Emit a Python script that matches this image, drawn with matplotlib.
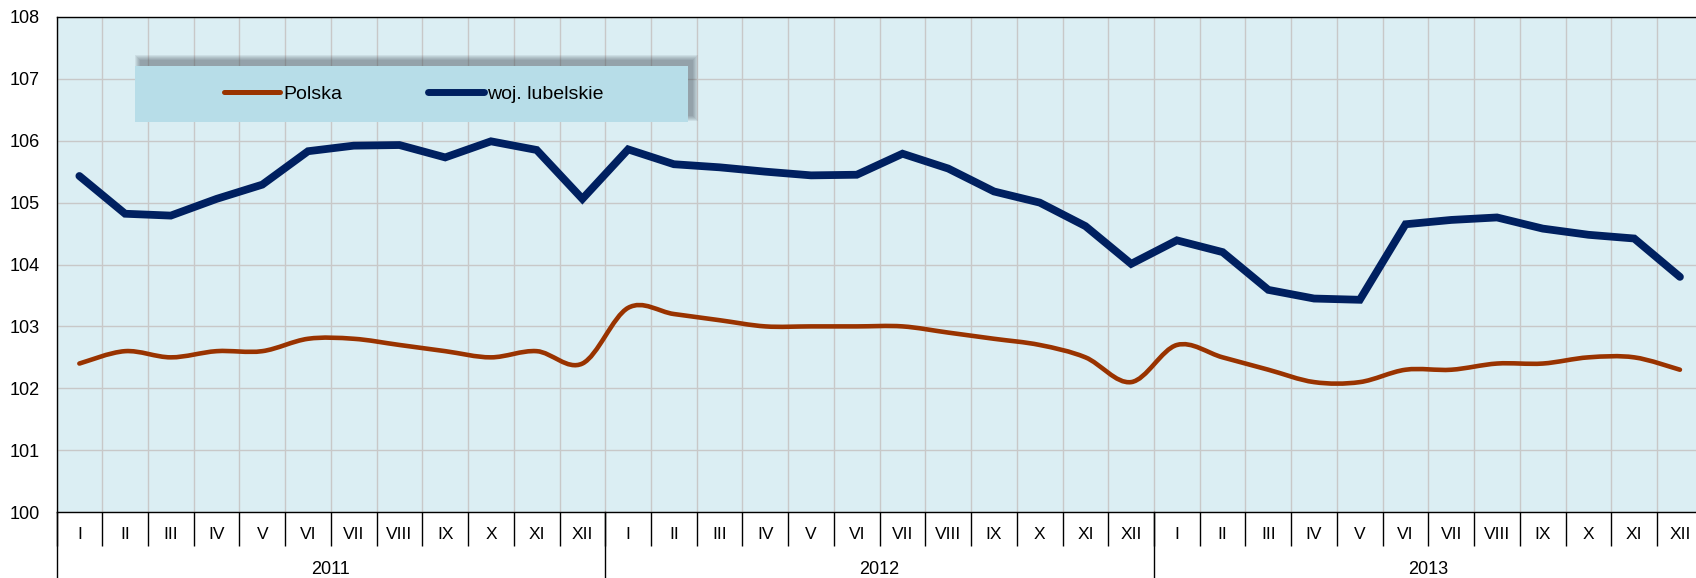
import numpy as np
import matplotlib
matplotlib.use('Agg')
import matplotlib.pyplot as plt
import matplotlib.transforms as mtransforms
from matplotlib.path import Path
from matplotlib.patches import PathPatch, Rectangle
from matplotlib.lines import Line2D

plt.rcParams['font.family'] = ['Liberation Sans', 'DejaVu Sans']

# dane
months = ['I', 'II', 'III', 'IV', 'V', 'VI', 'VII', 'VIII', 'IX', 'X', 'XI', 'XII'] * 3
years = ['2011', '2012', '2013']
polska = [102.4, 102.6, 102.5, 102.6, 102.6, 102.8, 102.8, 102.7, 102.6, 102.5, 102.6, 102.4,
          103.3, 103.2, 103.1, 103.0, 103.0, 103.0, 103.0, 102.9, 102.8, 102.7, 102.5, 102.1,
          102.7, 102.5, 102.3, 102.1, 102.1, 102.3, 102.3, 102.4, 102.4, 102.5, 102.5, 102.3]
lubelskie = [105.43, 104.82, 104.79, 105.06, 105.29, 105.83, 105.92, 105.93, 105.73, 105.99, 105.85, 105.06,
             105.86, 105.62, 105.57, 105.50, 105.44, 105.45, 105.79, 105.55, 105.18, 105.00, 104.62, 104.01,
             104.39, 104.20, 103.59, 103.45, 103.43, 104.65, 104.72, 104.76, 104.58, 104.48, 104.42, 103.80]

C_PL = '#993300'
C_LUB = '#002060'


def smooth_path(xs, ys):
    '''wygladzona linia (jak w Excelu) - krzywe Beziera przez punkty'''
    pts = np.column_stack([xs, ys]).astype(float)
    n = len(pts)
    verts = [pts[0]]
    codes = [Path.MOVETO]
    for i in range(n - 1):
        p0 = pts[max(i - 1, 0)]
        p1 = pts[i]
        p2 = pts[i + 1]
        p3 = pts[min(i + 2, n - 1)]
        verts += [p1 + (p2 - p0) / 6.0, p2 - (p3 - p1) / 6.0, p2]
        codes += [Path.CURVE4] * 3
    return Path(verts, codes)


W, H = 1696, 578
fig = plt.figure(figsize=(W / 100, H / 100), dpi=100)
ax = fig.add_axes([56.5 / W, 65.9 / H, 1646.3 / W, 495.2 / H])

x = np.arange(len(months))
ax.set_xlim(-0.5, len(months) - 0.5)
ax.set_ylim(100, 108)
ax.set_facecolor('#DBEEF3')

# siatka
ax.set_yticks(range(100, 109))
ax.set_xticks(x)
ax.set_xticklabels(months, fontsize=12.5, va='center')
ax.set_xticks(np.arange(-0.5, len(months), 1), minor=True)
ax.grid(axis='y', which='major', color='#C8C8C8', lw=1)
ax.grid(axis='x', which='minor', color='#C8C8C8', lw=1)
ax.tick_params(axis='x', which='major', length=0, pad=15.8)
ax.tick_params(axis='x', which='minor', length=24.5, width=1, color='black', direction='out')
ax.tick_params(axis='y', length=0, pad=12, labelsize=13)
for s in ax.spines.values():
    s.set_color('black')
    s.set_linewidth(1)
ax.set_axisbelow(True)

# serie
ax.add_patch(PathPatch(smooth_path(x, polska), fill=False, edgecolor=C_PL, lw=3.3,
                       capstyle='round', joinstyle='round', zorder=3))
ax.plot(x, lubelskie, color=C_LUB, lw=5.6, solid_capstyle='round', solid_joinstyle='miter', zorder=3)

# lata
trans = mtransforms.blended_transform_factory(ax.transData, ax.transAxes)
for i, yr in enumerate(years):
    ax.plot([12 * i - 0.5] * 2, [0, -0.135], transform=trans, color='black', lw=1, clip_on=False)
    ax.text(12 * i + 5.5, -0.1155, yr, transform=trans, ha='center', va='center', fontsize=13)

# legenda z cieniem (cien w gore i w prawo)
bx, by, bw, bh = 0.0477, 0.7878, 0.3359, 0.1131
off = mtransforms.offset_copy(ax.transAxes, fig=fig, x=5, y=6, units='dots')
for k in range(5, -1, -1):
    ax.add_patch(Rectangle((bx - k / 1646.3, by - k / 495.2), bw + 2 * k / 1646.3, bh + 2 * k / 495.2,
                           transform=off, fc='#3A4550', ec='none', alpha=0.09, zorder=4))
ax.add_patch(Rectangle((bx, by), bw, bh, transform=ax.transAxes, fc='#B7DDE8', ec='none', zorder=4))

handles = [Line2D([], [], color=C_PL, lw=3.6, solid_capstyle='round'),
           Line2D([], [], color=C_LUB, lw=5.0, solid_capstyle='round')]
leg = ax.legend(handles, ['Polska', 'woj. lubelskie'], ncol=2, loc='center',
                bbox_to_anchor=(0.2172, 0.8443), frameon=False, fontsize=14,
                handlelength=2.85, handletextpad=0.2, columnspacing=4.4)
leg.set_zorder(5)

fig.savefig('out.png', dpi=100)
